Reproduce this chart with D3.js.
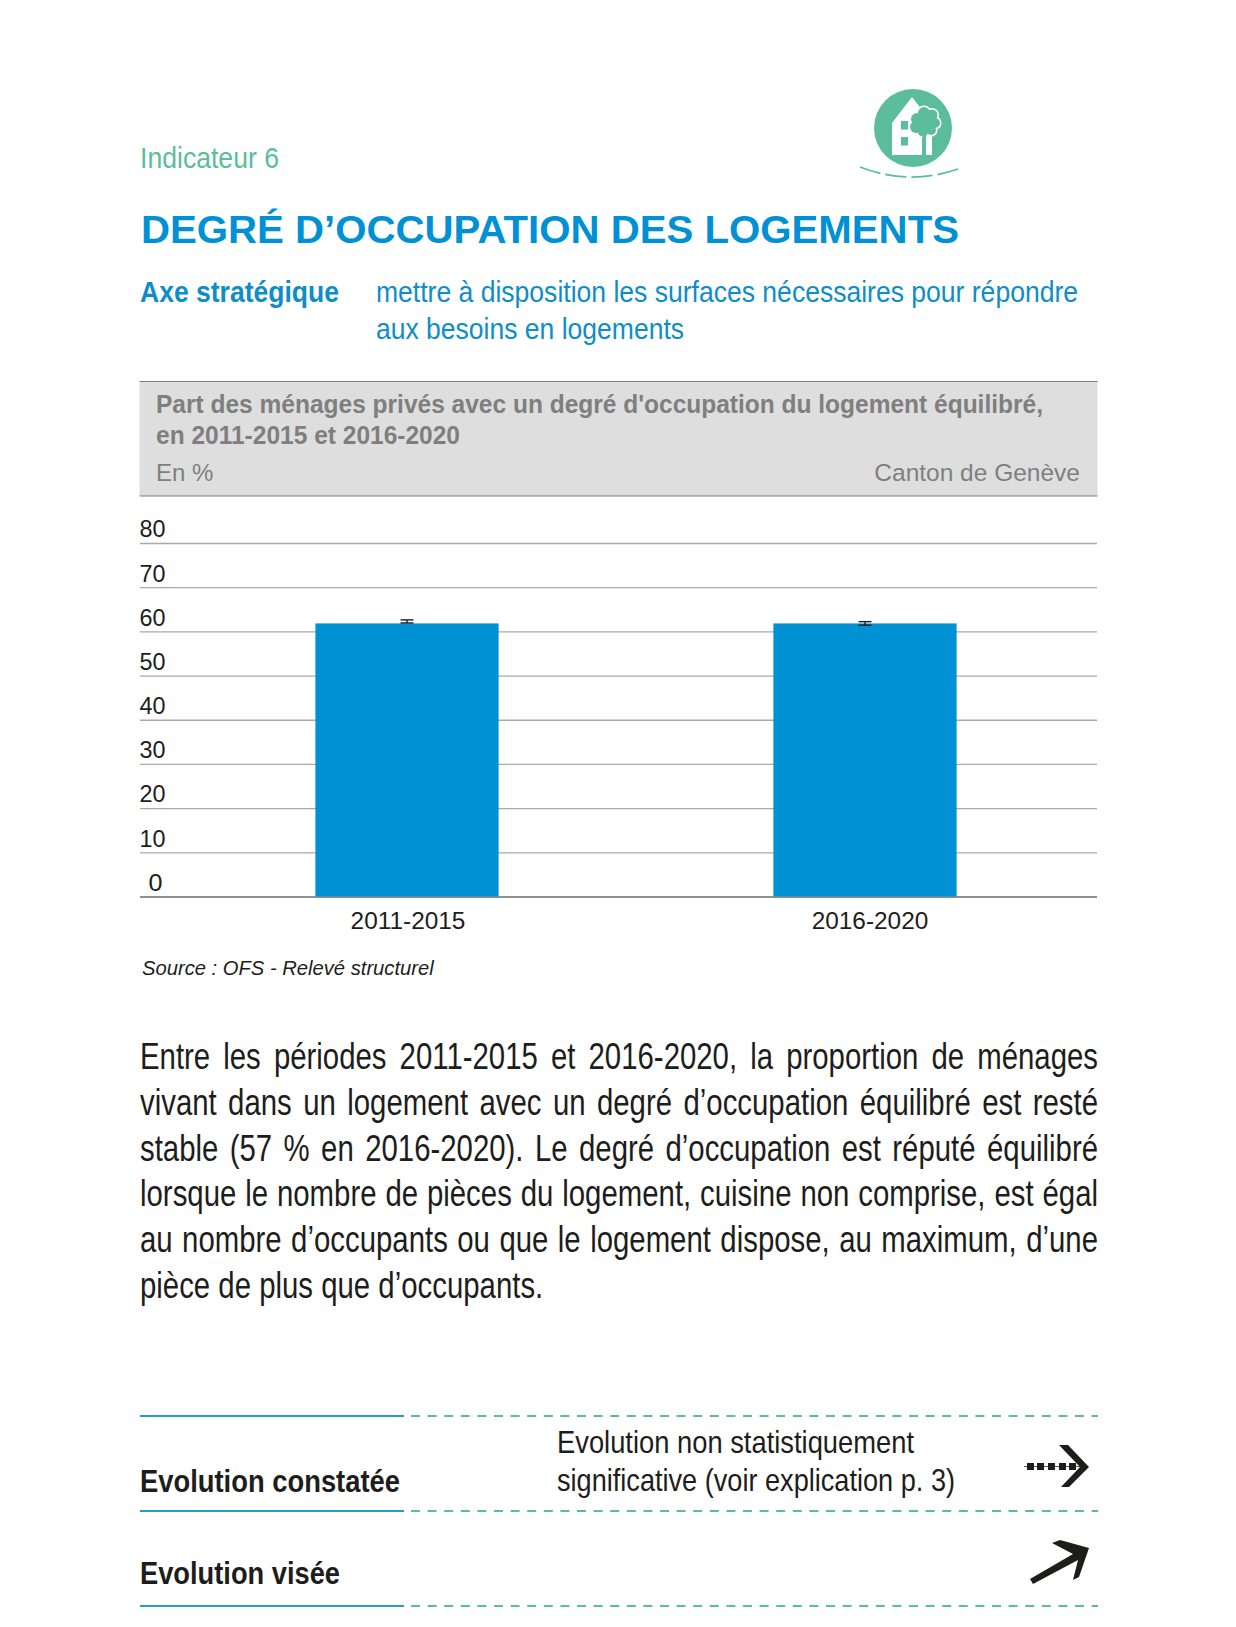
<!DOCTYPE html>
<html><head><meta charset="utf-8">
<script src="https://cdn.jsdelivr.net/npm/d3@7"></script>
<style>html,body{margin:0;padding:0;background:#fff}svg{display:block}text{font-family:"Liberation Sans",Arial,sans-serif}</style>
</head><body><svg id="c" width="1236" height="1627"></svg>
<script>
const categories = ["2011-2015", "2016-2020"];
const values = [61.8, 61.8];
const errLow = [61.9, 61.4];
const errHigh = [62.6, 62.2];
const yTicks = [0, 10, 20, 30, 40, 50, 60, 70, 80];
const bodyLines = [
 "Entre les périodes 2011-2015 et 2016-2020, la proportion de ménages",
 "vivant dans un logement avec un degré d’occupation équilibré est resté",
 "stable (57 % en 2016-2020). Le degré d’occupation est réputé équilibré",
 "lorsque le nombre de pièces du logement, cuisine non comprise, est égal",
 "au nombre d’occupants ou que le logement dispose, au maximum, d’une",
 "pièce de plus que d’occupants."];
const green="#5bbd9b", blue="#0090d4", cyan="#0e8dc8", ink="#1d1d1b";
const svg=d3.select("#c");
function t(x,y,s,size,fill,o={}){
  const e=svg.append("text").attr("x",x).attr("y",y).text(s).attr("font-size",size).attr("fill",fill);
  if(o.w)e.attr("font-weight",o.w);
  if(o.style)e.attr("font-style",o.style);
  if(o.anchor)e.attr("text-anchor",o.anchor);
  if(o.len)e.attr("textLength",o.len).attr("lengthAdjust","spacingAndGlyphs");
  return e;
}
// header
t(140,168,"Indicateur 6",30,green,{len:139});
t(141,243,"DEGRÉ D’OCCUPATION DES LOGEMENTS",39,blue,{w:700,len:818});
t(140,302,"Axe stratégique",30,cyan,{w:700,len:199});
t(376,302,"mettre à disposition les surfaces nécessaires pour répondre",30,cyan,{len:702});
t(376,339,"aux besoins en logements",30,cyan,{len:308});
// icon
svg.append("circle").attr("cx",913).attr("cy",128).attr("r",39).attr("fill",green);
svg.append("path").attr("fill","#fff").attr("d","M892 155V123L912 97L922 110V155H892Z M926 128H932V155H926Z");
const windowYs=[121,137];
svg.selectAll("rect.win").data(windowYs).join("rect").attr("class","win").attr("x",901).attr("y",d=>d).attr("width",7).attr("height",8.5).attr("fill",green);
const treeLobes=[[917,119,6],[924,113,6],[932,115,5.5],[935,123,5],[931,130,5],[923,131,5.5],[916,127,6],[925,122,8]];
svg.selectAll("circle.lw").data(treeLobes).join("circle").attr("class","lw").attr("cx",d=>d[0]).attr("cy",d=>d[1]).attr("r",d=>d[2]+1.6).attr("fill","#fff");
svg.selectAll("circle.lg").data(treeLobes).join("circle").attr("class","lg").attr("cx",d=>d[0]).attr("cy",d=>d[1]).attr("r",d=>d[2]).attr("fill",green);
svg.append("rect").attr("x",922.5).attr("y",131).attr("width",3.5).attr("height",24).attr("fill",green);
const arc=svg.append("path").attr("fill","none").attr("stroke",green).attr("stroke-width",1.8)
  .attr("d","M860 167Q909 186 958 169");
const arcLen=arc.node().getTotalLength();
arc.attr("stroke-dasharray",`${(arcLen-15)/4} 5`);
// grey band
svg.append("rect").attr("x",139.5).attr("y",381).attr("width",958).attr("height",115).attr("fill","#dedede");
svg.append("line").attr("x1",139.5).attr("x2",1097.5).attr("y1",381.5).attr("y2",381.5).attr("stroke","#7f7f7f").attr("stroke-width",1);
svg.append("line").attr("x1",139.5).attr("x2",1097.5).attr("y1",496).attr("y2",496).attr("stroke","#7f7f7f").attr("stroke-width",1);
t(156,413,"Part des ménages privés avec un degré d'occupation du logement équilibré,",25,"#7f7f7f",{w:700,len:887});
t(156,444,"en 2011-2015 et 2016-2020",25,"#7f7f7f",{w:700,len:304});
t(156,481,"En %",24,"#7f7f7f");
t(1080,481,"Canton de Genève",24.5,"#7f7f7f",{anchor:"end"});
// chart
const y=d3.scaleLinear().domain([0,80]).range([896.5,543]);
const x=d3.scaleBand().domain(categories).range([178,1094]).paddingInner(0.6).paddingOuter(0.3);
const gy=svg.append("g").attr("transform","translate(140,0)")
  .call(d3.axisLeft(y).tickValues(yTicks).tickSize(-957).tickPadding(0));
gy.select(".domain").remove();
gy.selectAll(".tick line").attr("stroke",d=>d===0?"#6d6d6d":"#a9a9a9").attr("stroke-width",1.3);
gy.selectAll(".tick text").attr("dy",0).attr("y",-6.2).attr("text-anchor","start")
  .attr("font-size",24).attr("fill",ink).attr("font-family","Liberation Sans")
  .attr("x",d=>d===0?8.5:-0.5).attr("textLength",d=>d===0?14:26).attr("lengthAdjust","spacingAndGlyphs");
svg.selectAll("rect.bar").data(categories).join("rect").attr("class","bar")
  .attr("x",d=>x(d)).attr("width",x.bandwidth()).attr("y",(d,i)=>y(values[i])).attr("height",(d,i)=>y(0)-y(values[i])).attr("fill",blue);
const eb=svg.selectAll("g.err").data(categories).join("g").attr("class","err").attr("stroke","#17212b").attr("stroke-width",1.4);
eb.append("line").attr("x1",d=>x(d)+x.bandwidth()/2).attr("x2",d=>x(d)+x.bandwidth()/2).attr("y1",(d,i)=>y(errLow[i])).attr("y2",(d,i)=>y(errHigh[i]));
[errLow,errHigh].forEach(arr=>eb.append("line").attr("x1",d=>x(d)+x.bandwidth()/2-6.5).attr("x2",d=>x(d)+x.bandwidth()/2+6.5).attr("y1",(d,i)=>y(arr[i])).attr("y2",(d,i)=>y(arr[i])));
const labelX=[408,870];
categories.forEach((c,i)=>t(labelX[i],929,c,24.4,ink,{anchor:"middle"}));
t(142,975,"Source : OFS - Relevé structurel",20.2,ink,{style:"italic"});
// body: justified, condensed lines
const bodyScale=0.794;
bodyLines.forEach((s,i)=>{
  const yy=1069+i*45.8;
  const e=svg.append("text").text(s).attr("font-size",37).attr("fill",ink)
    .attr("transform",`translate(140,${yy}) scale(${bodyScale},1)`);
  const words=s.split(" ").length-1;
  const target=958/bodyScale, len=e.node().getComputedTextLength();
  if(i<bodyLines.length-1) e.attr("word-spacing",(target-len)/words);
});
// bottom rules
function rule(yy){
  svg.append("line").attr("x1",140).attr("x2",404).attr("y1",yy).attr("y2",yy).attr("stroke","#2a9ac9").attr("stroke-width",2);
  svg.append("line").attr("x1",411).attr("x2",1098).attr("y1",yy).attr("y2",yy).attr("stroke",green).attr("stroke-width",1.8).attr("stroke-dasharray","9 7.6");
}
[1416,1511,1606].forEach(rule);
t(140,1492,"Evolution constatée",31,ink,{w:700,len:260});
t(140,1584,"Evolution visée",31,ink,{w:700,len:200});
t(557,1453,"Evolution non statistiquement",32,ink,{len:357});
t(557,1491,"significative (voir explication p. 3)",32,ink,{len:398});
// arrows
const dots=[1027,1037,1048,1059,1069];
svg.append("line").attr("x1",1024).attr("x2",1080).attr("y1",1466.5).attr("y2",1466.5).attr("stroke","#555").attr("stroke-width",1);
svg.selectAll("rect.dot").data(dots).join("rect").attr("class","dot").attr("x",d=>d).attr("y",1463).attr("width",7).attr("height",7).attr("fill",ink);
svg.append("path").attr("fill",ink).attr("d","M1059 1445H1068L1089 1467L1069 1487H1061L1080 1467Z");
svg.append("path").attr("fill",ink).attr("d","M1030 1579L1073 1554L1052 1543L1060 1540L1089 1548L1079 1577L1073 1580L1078 1560L1033 1584Z");
</script></body></html>
